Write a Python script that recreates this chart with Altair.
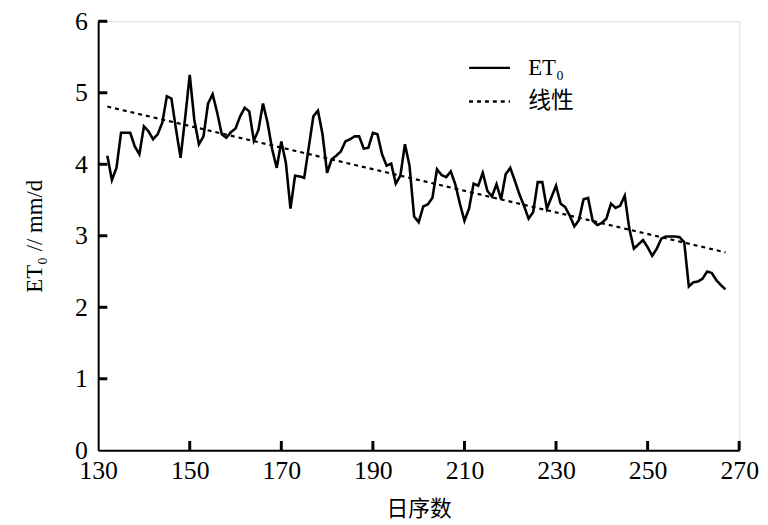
import altair as alt
import pandas as pd

days = list(range(132, 268))
et0 = [
    4.12, 3.78, 3.95, 4.44, 4.44, 4.44, 4.25, 4.14, 4.53, 4.46,   # 132-141
    4.35, 4.42, 4.58, 4.95, 4.92, 4.49, 4.09, 4.65, 5.25, 4.62,   # 142-151
    4.28, 4.39, 4.85, 4.98, 4.72, 4.42, 4.37, 4.45, 4.50, 4.67,   # 152-161
    4.79, 4.74, 4.33, 4.48, 4.85, 4.58, 4.21, 3.95, 4.32, 4.02,   # 162-171
    3.38, 3.84, 3.83, 3.81, 4.24, 4.67, 4.75, 4.42, 3.88, 4.07,   # 172-181
    4.12, 4.18, 4.32, 4.35, 4.39, 4.39, 4.22, 4.23, 4.44, 4.42,   # 182-191
    4.14, 3.98, 4.01, 3.73, 3.84, 4.28, 3.98, 3.27, 3.19, 3.41,   # 192-201
    3.44, 3.53, 3.93, 3.85, 3.82, 3.90, 3.72, 3.45, 3.21, 3.38,   # 202-211
    3.73, 3.70, 3.88, 3.63, 3.55, 3.72, 3.51, 3.86, 3.95, 3.77,   # 212-221
    3.58, 3.42, 3.24, 3.33, 3.75, 3.75, 3.38, 3.54, 3.70, 3.45,   # 222-231
    3.40, 3.28, 3.13, 3.22, 3.51, 3.53, 3.21, 3.15, 3.18, 3.24,   # 232-241
    3.45, 3.39, 3.42, 3.56, 3.10, 2.82, 2.88, 2.94, 2.84, 2.72,   # 242-251
    2.82, 2.96, 2.99, 2.99, 2.99, 2.98, 2.91, 2.29, 2.35, 2.36,   # 252-261
    2.40, 2.50, 2.48, 2.38, 2.31, 2.25,                           # 262-267
]
x_labels = [130, 150, 170, 190, 210, 230, 250, 270]
x_ticks = [150, 170, 190, 210, 230, 250, 270]
y_labels = [0, 1, 2, 3, 4, 5, 6]
y_ticks = [1, 2, 3, 4, 5, 6]
series_names = ["ET₀", "线性"]

df = pd.DataFrame({"day": days, "et0": et0})
xt_df = pd.DataFrame({"tx": x_ticks, "ty0": [0.0] * len(x_ticks), "ty1": [0.13] * len(x_ticks)})
yt_df = pd.DataFrame({"ty": y_ticks, "tx0": [130.0] * len(y_ticks), "tx1": [132.0] * len(y_ticks)})

W, H = 647, 433
SERIF = "Liberation Serif, DejaVu Serif, serif"
CJK = "Noto Sans CJK SC"

xs = alt.Scale(domain=[130, 270], nice=False, zero=False)
ys = alt.Scale(domain=[0, 6], nice=False)

x_axis = alt.Axis(
    values=x_labels, format="d", ticks=False, grid=False, domainColor="black",
    domainWidth=2, labelFont=SERIF, labelFontSize=26, labelColor="black",
    labelPadding=7, labelFlush=False, labelOverlap=False,
    title="日序数", titleFont=CJK, titleFontSize=22, titleFontWeight="normal",
    titleColor="black", titlePadding=16,
)
y_axis = alt.Axis(
    values=y_labels, format="d", ticks=False, grid=False, domainColor="black",
    domainWidth=2, labelFont=SERIF, labelFontSize=26, labelColor="black",
    labelPadding=11, labelFlush=False, labelOverlap=False,
    title="ET₀ // mm/d", titleFont=SERIF, titleFontSize=23, titleFontWeight="normal",
    titleColor="black", titlePadding=28,
)

dash = alt.StrokeDash(
    "series:N",
    scale=alt.Scale(domain=series_names, range=[[1, 0], [4, 4]]),
    legend=alt.Legend(
        title=None, orient="none", legendX=373, legendY=25,
        symbolType="stroke", symbolSize=1700, symbolStrokeWidth=2.4,
        symbolStrokeColor="black", labelFont=SERIF + ", " + CJK,
        labelFontSize=23, labelColor="black", labelOffset=17, rowPadding=0,
        padding=0,
    ),
)

base = alt.Chart(df)
line = base.transform_calculate(series="'ET₀'").mark_line(
    color="black", strokeWidth=2.6
).encode(
    x=alt.X("day:Q", scale=xs, axis=x_axis),
    y=alt.Y("et0:Q", scale=ys, axis=y_axis),
    strokeDash=dash,
)
trend = base.transform_regression(
    "day", "et0", extent=[132, 267]
).transform_calculate(series="'线性'").mark_line(
    color="black", strokeWidth=2.2
).encode(
    x="day:Q", y="et0:Q", strokeDash=dash,
)

xt = alt.Chart(xt_df).mark_rule(color="#000000", strokeWidth=3, strokeCap="butt").encode(
    x=alt.X("tx:Q", scale=xs),
    y=alt.Y("ty0:Q", scale=ys),
    y2="ty1:Q",
)
yt = alt.Chart(yt_df).mark_rule(color="#000000", strokeWidth=3, strokeCap="butt").encode(
    y=alt.Y("ty:Q", scale=ys),
    x=alt.X("tx0:Q", scale=xs),
    x2="tx1:Q",
)

chart = alt.layer(line, trend, xt, yt).properties(
    width=W, height=H,
    autosize=alt.AutoSizeParams(type="none"),
    padding={"left": 91, "top": 11, "right": 21, "bottom": 72},
).configure_view(stroke=None).configure(background="white")

chart.save("out.html", embed_options={"renderer": "svg", "actions": False})
